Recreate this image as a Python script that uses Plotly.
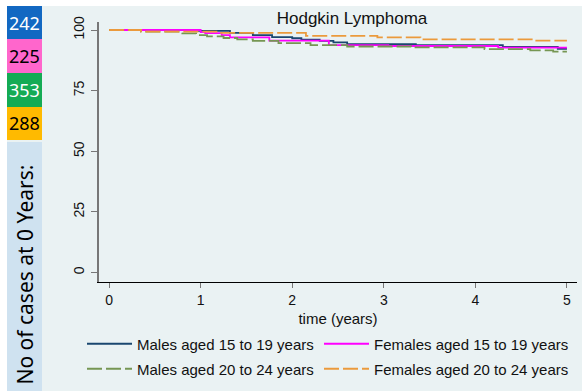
import plotly.graph_objects as go

# ---- data ----
series_names = ["Males aged 15 to 19 years", "Females aged 15 to 19 years",
                "Males aged 20 to 24 years", "Females aged 20 to 24 years"]
cases_at_0 = [242, 225, 353, 288]

t_m1519 = [0, 0.92, 1.32, 1.57, 1.78, 2.0, 2.1, 2.3, 2.45, 2.6, 3.35, 4.3, 4.9, 5.0]
s_m1519 = [100, 99.6, 98.8, 97.9, 97.1, 96.6, 96.0, 95.5, 94.9, 94.2, 93.8, 93.0, 92.2, 92.2]

t_f1519 = [0, 1.0, 1.05, 1.23, 1.32, 1.75, 2.4, 3.05, 4.25, 5.0]
s_f1519 = [100, 99.1, 98.7, 97.9, 97.0, 95.6, 93.8, 93.4, 92.7, 92.7]

t_m2024 = [0, 0.35, 0.8, 0.95, 1.07, 1.25, 1.4, 1.57, 1.85, 2.2, 2.6, 3.3, 4.1, 4.6, 4.85, 5.0]
s_m2024 = [100, 99.3, 98.6, 97.9, 97.4, 96.7, 96.1, 95.5, 94.6, 93.8, 93.2, 92.8, 92.1, 91.6, 91.1, 91.1]

t_f2024 = [0, 0.35, 1.2, 2.15, 2.93, 3.4, 4.65, 5.0]
s_f2024 = [100, 99.3, 98.8, 97.6, 97.0, 96.1, 95.6, 95.6]

x_ticks = [0, 1, 2, 3, 4, 5]
y_ticks = [0, 25, 50, 75, 100]

# ---- styles ----
line_colors = ["#1a476f", "#ff00ff", "#769653", "#eb9a3c"]
line_dash = ["solid", "solid", "15px,4px", "15px,4px"]
legend_ids = ["legend", "legend2", "legend3", "legend4"]
legend_pos = [(82, 344), (319, 344), (82, 369), (319, 369)]
box_colors = ["#1268c2", "#ff66cc", "#14ab54", "#ffba00"]
box_text_colors = ["white", "black", "white", "black"]
BG = "#eaf2f3"

W, H = 582, 391
L, R, T, B = 99, 5, 22, 109
pw = W - L - R
ph = H - T - B

def px(x):
    return (x - L) / pw

def py(y):
    return (H - B - y) / ph

fig = go.Figure()
for name, tt, ss, c, d, lg in zip(series_names,
                                  [t_m1519, t_f1519, t_m2024, t_f2024],
                                  [s_m1519, s_f1519, s_m2024, s_f2024],
                                  line_colors, line_dash, legend_ids):
    fig.add_trace(go.Scatter(x=tt, y=ss, mode="lines", name=name, legend=lg,
                             line=dict(color=c, width=1.8, dash=d, shape="hv")))

shapes = []
# white margins
shapes.append(dict(type="rect", xref="paper", yref="paper", x0=px(0), x1=px(W),
                   y0=py(0), y1=py(6), fillcolor="white", line_width=0, layer="below"))
shapes.append(dict(type="rect", xref="paper", yref="paper", x0=px(0), x1=px(7),
                   y0=py(0), y1=py(H), fillcolor="white", line_width=0, layer="below"))
# left column boxes
edges = [6, 39, 73, 107, 140]
annotations = []
for i, (n, bc, tc) in enumerate(zip(cases_at_0, box_colors, box_text_colors)):
    shapes.append(dict(type="rect", xref="paper", yref="paper", x0=px(7), x1=px(42),
                       y0=py(edges[i + 1]), y1=py(edges[i]), fillcolor=bc, line_width=0,
                       layer="below"))
    annotations.append(dict(x=px(24.5), y=py((edges[i] + edges[i + 1]) / 2),
                            xref="paper", yref="paper", text=str(n), showarrow=False,
                            font=dict(family="Noto Sans", size=18, color=tc),
                            xanchor="center", yanchor="middle"))
shapes.append(dict(type="rect", xref="paper", yref="paper", x0=px(7), x1=px(42),
                   y0=py(H), y1=py(142), fillcolor="#cfe2f0", line_width=0, layer="below"))
annotations.append(dict(x=px(24.5), y=py(387), xref="paper", yref="paper",
                        text="No of cases at 0 Years:", showarrow=False, textangle=-90,
                        font=dict(family="Noto Sans", size=21, color="black"),
                        xanchor="center", yanchor="bottom"))

leg_common = dict(orientation="h", xref="paper", yref="paper",
                  xanchor="left", yanchor="middle",
                  itemwidth=45, bgcolor="rgba(0,0,0,0)",
                  font=dict(family="Liberation Sans", size=15, color="#111"))
legends = {lid: dict(x=px(lx), y=py(ly), **leg_common)
           for lid, (lx, ly) in zip(legend_ids, legend_pos)}

fig.update_layout(
    width=W, height=H,
    margin=dict(l=L, r=R, t=T, b=B, pad=0, autoexpand=False),
    paper_bgcolor=BG, plot_bgcolor=BG,
    shapes=shapes, annotations=annotations,
    title=dict(text="Hodgkin Lymphoma", x=px(352), xref="paper", xanchor="center",
               y=1 - 18 / H, yref="container", yanchor="middle",
               font=dict(family="Liberation Sans", size=17, color="#111")),
    font=dict(family="Liberation Sans", color="#111"),
    showlegend=True,
    xaxis=dict(range=[-0.11, 5.11], tickvals=x_ticks, showgrid=False, zeroline=False,
               showline=True, linecolor="black", linewidth=1,
               ticks="outside", ticklen=5, tickcolor="#777",
               tickfont=dict(family="Liberation Sans", size=14, color="#111"),
               title=dict(text="time (years)", standoff=6,
                          font=dict(family="Liberation Sans", size=15, color="#111"))),
    yaxis=dict(range=[-3.9, 103.3], tickvals=y_ticks, showgrid=False, zeroline=False,
               showline=True, linecolor="#777", linewidth=2,
               ticks="outside", ticklen=6, tickcolor="#777", tickangle=-90,
               ticklabelstandoff=1,
               tickfont=dict(family="Liberation Sans", size=14, color="#111")),
)
fig.update_layout(**legends)

fig.write_html("out.html")
